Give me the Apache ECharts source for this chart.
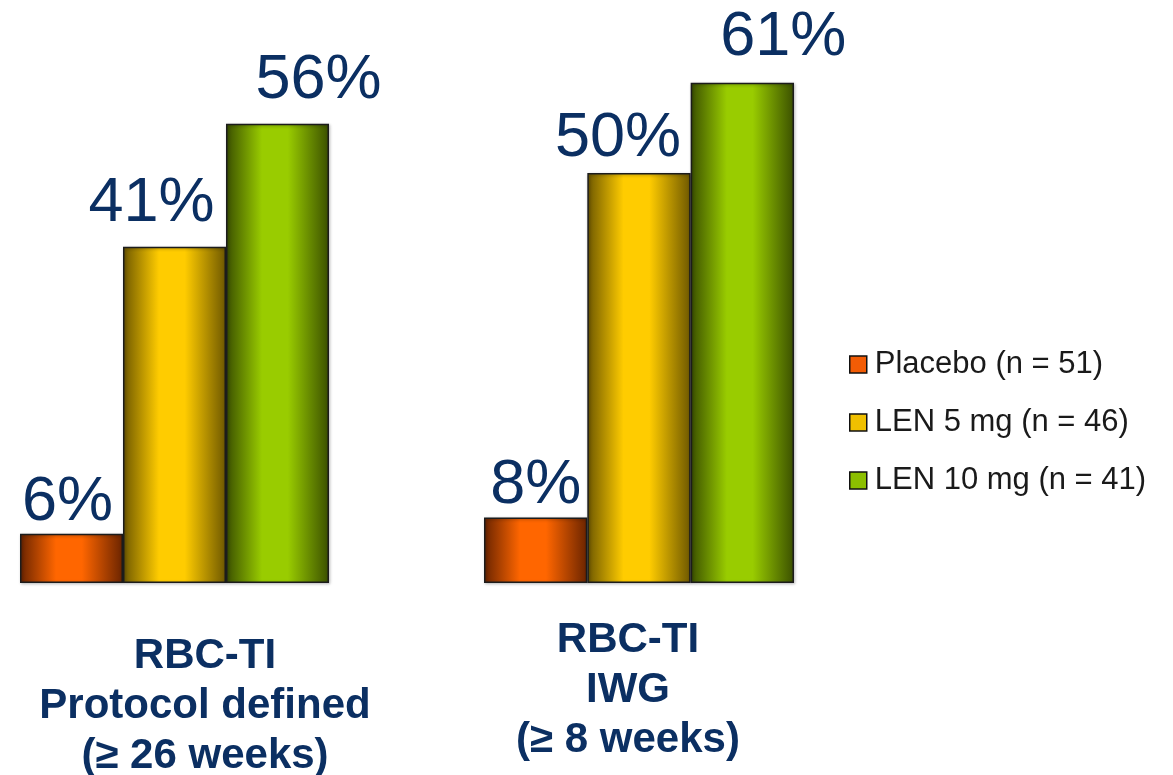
<!DOCTYPE html>
<html>
<head>
<meta charset="utf-8">
<script src="https://cdn.jsdelivr.net/npm/echarts@6/dist/echarts.min.js"></script>
<style>
  html, body { margin: 0; padding: 0; background: #fff; }
  #chart { width: 1173px; height: 775px; }
</style>
</head>
<body>
<div id="chart"></div>
<script>
// Response endpoints (x axis groups)
const categories = [
  'RBC-TI\nProtocol defined\n(≥ 26 weeks)',
  'RBC-TI\nIWG\n(≥ 8 weeks)'
];
// Treatment arms
const seriesNames = ['Placebo (n = 51)', 'LEN 5 mg (n = 46)', 'LEN 10 mg (n = 41)'];
// Percent of patients achieving RBC transfusion independence
const placebo = [6, 8];
const len5 = [41, 50];
const len10 = [56, 61];

const seriesValues = [placebo, len5, len10];

// dark edge / bright centre for the cylinder-like shading
const palette = [
  { dark: '#6a2400', bright: '#ff6600', flat: '#f25c05' },
  { dark: '#6e5800', bright: '#ffcc00', flat: '#f0c000' },
  { dark: '#3b5000', bright: '#99cc00', flat: '#8cbf00' }
];
// value label nudges, per arm and per endpoint
const labelOffsets = [
  [[-4, 5], [0, 5]],
  [[-23, -7], [-21, 2]],
  [[41, -7], [41, -9]]
];

function shade(p) {
  return new echarts.graphic.LinearGradient(0, 0, 1, 0, [
    { offset: 0, color: p.dark },
    { offset: 0.35, color: p.bright },
    { offset: 0.6, color: p.bright },
    { offset: 1, color: p.dark }
  ]);
}

const gridBoxes = [
  { left: 20, width: 309, top: 9, height: 574, outerBoundsMode: 'none', containLabel: false },
  { left: 484, width: 310, top: 9, height: 574, outerBoundsMode: 'none', containLabel: false }
];
const labelLayout = [
  { margin: 48, padding: [0, 0, 0, 61] },
  { margin: 32, padding: [0, 22, 0, 0] }
];

const xAxes = categories.map((c, i) => ({
  type: 'category',
  gridIndex: i,
  data: [c],
  axisLine: { show: false },
  axisTick: { show: false },
  axisLabel: {
    interval: 0,
    margin: labelLayout[i].margin,
    padding: labelLayout[i].padding,
    fontFamily: 'Liberation Sans, Arial, sans-serif',
    fontWeight: 'bold',
    fontSize: 42,
    lineHeight: 50,
    color: '#0b2f62'
  }
}));

const yAxes = categories.map((c, i) => ({
  type: 'value',
  gridIndex: i,
  min: 0,
  max: 70,
  show: false,
  splitLine: { show: false }
}));

const series = [];
categories.forEach((c, gi) => {
  seriesNames.forEach((name, si) => {
    series.push({
      type: 'bar',
      name: name,
      xAxisIndex: gi,
      yAxisIndex: gi,
      barGap: '0%',
      barCategoryGap: '0%',
      data: [{
        value: seriesValues[si][gi],
        label: { offset: labelOffsets[si][gi] }
      }],
      itemStyle: {
        color: shade(palette[si]),
        borderColor: '#1c1c1c',
        borderWidth: 1.5,
        shadowColor: 'rgba(0,0,0,0.3)',
        shadowBlur: 3,
        shadowOffsetX: 1,
        shadowOffsetY: 1
      },
      label: {
        show: true,
        position: 'top',
        distance: 5,
        formatter: '{c}%',
        fontFamily: 'Liberation Sans, Arial, sans-serif',
        fontSize: 63,
        color: '#0b2f62'
      },
      emphasis: { disabled: true }
    });
  });
});

const chart = echarts.init(document.getElementById('chart'), null, { renderer: 'canvas' });
chart.setOption({
  animation: false,
  backgroundColor: '#ffffff',
  grid: gridBoxes,
  xAxis: xAxes,
  yAxis: yAxes,
  legend: {
    orient: 'vertical',
    left: 844,
    top: 344,
    itemWidth: 17,
    itemHeight: 17,
    itemGap: 27,
    icon: 'rect',
    selectedMode: false,
    data: seriesNames.map((n, i) => ({
      name: n,
      itemStyle: { color: palette[i].flat, borderColor: '#111', borderWidth: 1.5 }
    })),
    textStyle: {
      fontFamily: 'Liberation Sans, Arial, sans-serif',
      fontSize: 31,
      color: '#1a1a1a',
      padding: [0, 0, 0, 3]
    }
  },
  series: series
});
</script>
</body>
</html>
